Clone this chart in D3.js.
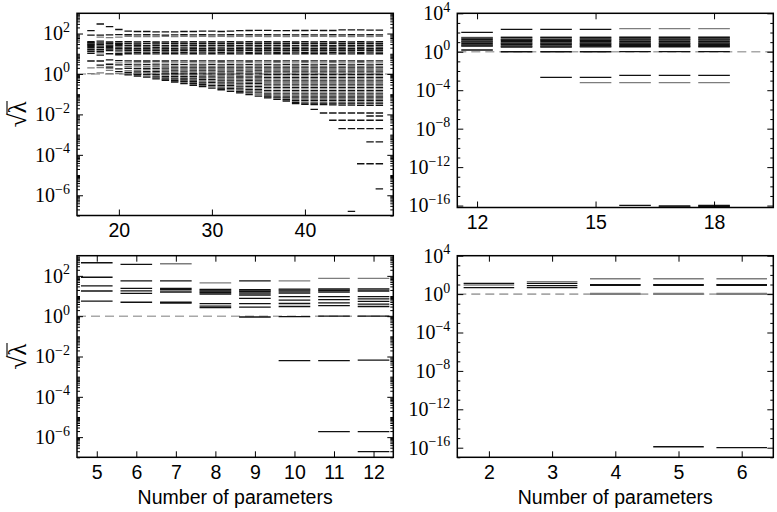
<!DOCTYPE html>
<html>
<head>
<meta charset="utf-8">
<script src="https://cdn.jsdelivr.net/npm/d3@7"></script>
<style>
  body { margin: 0; background: #fff; }
</style>
</head>
<body>
<svg width="777" height="512"></svg>
<script>
// sqrt(lambda) per number of parameters, stored as log10 values
// dark = black dashes, light = grey dashes

// ---- top left panel ----
const p1Cols = [17,18,19,20,21,22,23,24,25,26,27,28,29,30,31,32,33,34,35,36,37,38,39,40,41,42,43,44,45,46,47,48];
const p1Dark = [
  [2.14,1.92,1.6,1.55,1.47,1.42,1.36,1.3,1.2,1.1,1.02,0.64],
  [2.47,1.92,1.62,1.54,1.45,1.38,1.3,1.22,1.12,0.93,0.64,0.44],
  [2.34,1.93,1.58,1.5,1.43,1.37,1.3,1.24,1.15,1.0,0.7,0.48,0.3],
  [2.2,1.95,1.6,1.52,1.46,1.4,1.33,1.25,1.18,1.02,0.95,0.66,0.45,0.25,0.12],
  [2.12,1.94,1.6,1.5,1.41,1.33,1.26,1.17,1.08,1.0,0.65,0.46,0.28,0.08,-0.05],
  [2.1,1.93,1.59,1.49,1.42,1.34,1.25,1.16,1.07,0.99,0.64,0.45,0.26,0.1,-0.02,-0.1],
  [2.1,1.94,1.6,1.5,1.4,1.33,1.25,1.17,1.08,1.0,0.64,0.46,0.27,0.12,-0.02,-0.16],
  [2.08,1.93,1.58,1.49,1.41,1.32,1.24,1.15,1.07,0.99,0.64,0.45,0.28,0.13,-0.02,-0.14,-0.24],
  [2.08,1.92,1.59,1.5,1.4,1.33,1.25,1.16,1.08,1.0,0.64,0.45,0.29,0.14,0.0,-0.13,-0.24,-0.32],
  [2.08,1.93,1.6,1.51,1.42,1.34,1.25,1.17,1.08,1.0,0.65,0.46,0.3,0.15,0.01,-0.12,-0.24,-0.33,-0.4],
  [2.1,1.94,1.59,1.5,1.41,1.33,1.24,1.16,1.07,0.99,0.65,0.46,0.3,0.14,0.0,-0.13,-0.25,-0.36,-0.48],
  [2.1,1.93,1.6,1.5,1.42,1.33,1.26,1.17,1.08,1.0,0.64,0.45,0.3,0.15,0.01,-0.12,-0.24,-0.36,-0.47,-0.56],
  [2.12,1.94,1.59,1.5,1.41,1.34,1.25,1.16,1.08,0.99,0.65,0.45,0.3,0.15,0.0,-0.14,-0.27,-0.4,-0.52,-0.62],
  [2.12,1.93,1.6,1.51,1.42,1.33,1.25,1.17,1.08,1.0,0.65,0.46,0.3,0.15,0.0,-0.14,-0.28,-0.42,-0.56,-0.7],
  [2.1,1.93,1.59,1.5,1.41,1.33,1.24,1.16,1.07,0.99,0.64,0.45,0.3,0.14,-0.01,-0.16,-0.3,-0.44,-0.58,-0.7,-0.78],
  [2.12,1.94,1.6,1.5,1.42,1.34,1.25,1.17,1.08,1.0,0.65,0.46,0.3,0.14,-0.01,-0.16,-0.3,-0.44,-0.58,-0.72,-0.86],
  [2.14,1.93,1.59,1.51,1.41,1.33,1.26,1.16,1.08,0.99,0.65,0.45,0.3,0.15,0.0,-0.15,-0.3,-0.45,-0.6,-0.74,-0.86,-0.94],
  [2.15,1.94,1.6,1.5,1.42,1.33,1.25,1.17,1.07,1.0,0.64,0.46,0.3,0.14,-0.01,-0.16,-0.31,-0.46,-0.61,-0.76,-0.9,-1.02],
  [2.16,1.93,1.59,1.5,1.41,1.34,1.25,1.16,1.08,1.0,0.65,0.45,0.3,0.15,0.0,-0.15,-0.3,-0.46,-0.62,-0.78,-0.94,-1.1],
  [2.16,1.94,1.6,1.51,1.42,1.33,1.26,1.17,1.08,0.99,0.65,0.46,0.3,0.14,-0.02,-0.18,-0.34,-0.5,-0.66,-0.82,-0.98,-1.1,-1.18],
  [2.14,1.93,1.59,1.5,1.41,1.33,1.25,1.16,1.07,1.0,0.64,0.45,0.3,0.14,-0.02,-0.18,-0.34,-0.5,-0.66,-0.82,-0.98,-1.14,-1.26],
  [2.14,1.94,1.6,1.5,1.42,1.34,1.25,1.17,1.08,1.0,0.65,0.46,0.3,0.14,-0.02,-0.18,-0.34,-0.5,-0.66,-0.82,-0.98,-1.14,-1.26,-1.34],
  [2.15,1.93,1.59,1.51,1.41,1.33,1.26,1.16,1.08,0.99,0.65,0.45,0.3,0.14,-0.02,-0.18,-0.34,-0.5,-0.66,-0.82,-0.98,-1.14,-1.3,-1.42,-1.46],
  [2.15,1.94,1.6,1.5,1.42,1.33,1.25,1.17,1.07,1.0,0.64,0.46,0.3,0.14,-0.02,-0.18,-0.34,-0.5,-0.66,-0.82,-0.98,-1.14,-1.3,-1.44,-1.5],
  [2.16,1.93,1.59,1.5,1.41,1.34,1.25,1.16,1.08,1.0,0.65,0.45,0.3,0.14,-0.02,-0.18,-0.34,-0.5,-0.66,-0.82,-0.98,-1.14,-1.3,-1.44,-1.52,-1.75],
  [2.15,1.93,1.6,1.5,1.42,1.33,1.25,1.17,1.08,1.0,0.65,0.46,0.3,0.14,-0.02,-0.18,-0.34,-0.5,-0.66,-0.82,-0.98,-1.14,-1.3,-1.44,-1.52,-1.93],
  [2.15,1.94,1.59,1.51,1.41,1.34,1.26,1.16,1.07,0.99,0.64,0.45,0.3,0.14,-0.02,-0.18,-0.34,-0.5,-0.66,-0.82,-0.98,-1.14,-1.3,-1.44,-1.53,-1.93,-2.29],
  [2.18,1.93,1.6,1.5,1.42,1.33,1.25,1.17,1.08,1.0,0.65,0.46,0.3,0.14,-0.02,-0.18,-0.34,-0.5,-0.66,-0.82,-0.98,-1.14,-1.3,-1.44,-1.54,-1.93,-2.29,-2.7],
  [2.18,1.94,1.59,1.5,1.41,1.34,1.25,1.16,1.08,0.99,0.65,0.45,0.3,0.14,-0.02,-0.18,-0.34,-0.5,-0.66,-0.82,-0.98,-1.14,-1.3,-1.44,-1.54,-1.93,-2.29,-2.7,-6.8],
  [2.18,1.93,1.6,1.51,1.42,1.33,1.26,1.17,1.07,1.0,0.64,0.46,0.3,0.14,-0.02,-0.18,-0.34,-0.5,-0.66,-0.82,-0.98,-1.14,-1.3,-1.44,-1.55,-1.93,-2.29,-2.7,-4.44],
  [2.17,1.94,1.59,1.5,1.41,1.34,1.25,1.16,1.08,0.99,0.65,0.45,0.3,0.14,-0.02,-0.18,-0.34,-0.5,-0.66,-0.82,-0.98,-1.14,-1.3,-1.44,-1.55,-1.93,-2.08,-2.29,-2.7,-3.36,-4.44],
  [2.17,1.93,1.6,1.5,1.42,1.33,1.25,1.17,1.08,1.0,0.65,0.46,0.3,0.14,-0.02,-0.18,-0.34,-0.5,-0.66,-0.82,-0.98,-1.14,-1.3,-1.44,-1.55,-1.93,-2.08,-2.29,-2.7,-3.36,-4.44,-5.68]
];
const p1Light = [
  [1.52,1.25,1.15,0.3,0.02],
  [1.82,1.5,1.18,1.05,0.32,0.05],
  [1.8,1.54,1.2,0.38,0.18,0.02],
  [1.82,1.5,1.1,0.55,0.02],
  [1.86,1.54,1.21,0.55,0.36,0.16,0.01],
  [1.85,1.53,1.2,0.55,0.35,0.18,0.04],
  [1.85,1.52,1.2,0.56,0.36,0.2,0.05,-0.09],
  [1.85,1.53,1.19,0.54,0.36,0.2,0.06,-0.08,-0.19],
  [1.86,1.54,1.21,0.55,0.36,0.21,0.07,-0.06,-0.18,-0.28],
  [1.85,1.54,1.21,0.55,0.37,0.22,0.08,-0.05,-0.18,-0.29,-0.37],
  [1.86,1.53,1.2,0.56,0.36,0.22,0.07,-0.06,-0.19,-0.3,-0.42],
  [1.85,1.54,1.2,0.55,0.36,0.22,0.08,-0.05,-0.18,-0.3,-0.41,-0.51],
  [1.86,1.53,1.21,0.55,0.37,0.22,0.07,-0.07,-0.2,-0.33,-0.46,-0.57],
  [1.85,1.54,1.2,0.55,0.36,0.22,0.07,-0.07,-0.21,-0.35,-0.49,-0.63],
  [1.86,1.53,1.21,0.56,0.36,0.22,0.06,-0.08,-0.23,-0.37,-0.51,-0.64,-0.74],
  [1.85,1.54,1.2,0.55,0.37,0.22,0.06,-0.08,-0.23,-0.37,-0.51,-0.65,-0.79],
  [1.86,1.53,1.21,0.55,0.36,0.22,0.07,-0.08,-0.22,-0.37,-0.52,-0.67,-0.8,-0.9],
  [1.85,1.54,1.2,0.56,0.36,0.21,0.06,-0.09,-0.24,-0.39,-0.54,-0.69,-0.83,-0.96],
  [1.86,1.53,1.21,0.55,0.37,0.22,0.07,-0.08,-0.23,-0.38,-0.54,-0.7,-0.86,-1.02],
  [1.85,1.54,1.2,0.55,0.36,0.22,0.06,-0.1,-0.26,-0.42,-0.58,-0.74,-0.9,-1.04,-1.14],
  [1.86,1.53,1.21,0.56,0.37,0.22,0.06,-0.1,-0.26,-0.42,-0.58,-0.74,-0.9,-1.06,-1.2],
  [1.85,1.54,1.2,0.55,0.36,0.22,0.06,-0.1,-0.26,-0.42,-0.58,-0.74,-0.9,-1.06,-1.2,-1.3],
  [1.86,1.53,1.21,0.55,0.37,0.22,0.06,-0.1,-0.26,-0.42,-0.58,-0.74,-0.9,-1.06,-1.22,-1.36],
  [1.85,1.54,1.2,0.56,0.36,0.21,0.06,-0.1,-0.26,-0.42,-0.58,-0.74,-0.9,-1.06,-1.22,-1.38],
  [1.86,1.53,1.21,0.55,0.37,0.22,0.06,-0.1,-0.26,-0.42,-0.58,-0.74,-0.9,-1.06,-1.22,-1.38,-1.48],
  [1.86,1.53,1.2,0.55,0.36,0.22,0.06,-0.1,-0.26,-0.42,-0.58,-0.74,-0.9,-1.06,-1.22,-1.38,-1.48],
  [1.85,1.54,1.21,0.56,0.37,0.22,0.06,-0.1,-0.26,-0.42,-0.58,-0.74,-0.9,-1.06,-1.22,-1.38,-1.48],
  [1.86,1.53,1.2,0.55,0.36,0.21,0.06,-0.1,-0.26,-0.42,-0.58,-0.74,-0.9,-1.06,-1.22,-1.38,-1.48],
  [1.85,1.54,1.21,0.55,0.37,0.22,0.06,-0.1,-0.26,-0.42,-0.58,-0.74,-0.9,-1.06,-1.22,-1.38,-1.48],
  [1.86,1.53,1.2,0.56,0.36,0.22,0.06,-0.1,-0.26,-0.42,-0.58,-0.74,-0.9,-1.06,-1.22,-1.38,-1.48],
  [1.85,1.54,1.21,0.55,0.37,0.22,0.06,-0.1,-0.26,-0.42,-0.58,-0.74,-0.9,-1.06,-1.22,-1.38,-1.48],
  [1.86,1.53,1.2,0.55,0.36,0.21,0.06,-0.1,-0.26,-0.42,-0.58,-0.74,-0.9,-1.06,-1.22,-1.38,-1.48]
];

// ---- top right panel ----
const p2Cols = [12,13,14,15,16,17,18];
const p2Dark = [
  [2.02,1.42,1.28,1.14,1.0,0.86,0.72,0.58,0.18],
  [2.33,1.46,1.32,1.18,1.04,0.9,0.76,0.62,0.48,0.0],
  [2.33,1.46,1.32,1.18,1.04,0.9,0.76,0.62,0.48,0.0,-2.67],
  [2.33,1.47,1.33,1.19,1.05,0.91,0.77,0.63,0.5,0.0,-2.67],
  [1.48,1.34,1.2,1.06,0.92,0.78,0.64,0.52,0.02,-2.45,-15.97],
  [1.48,1.34,1.2,1.06,0.92,0.78,0.64,0.52,0.02,-2.45,-16.04,-16.13],
  [1.48,1.34,1.2,1.06,0.92,0.78,0.64,0.52,0.02,-2.45,-15.97,-16.07,-16.16]
];
const p2Light = [
  [1.5,1.08,0.65],
  [1.55,1.25,0.83,0.55],
  [1.55,1.25,0.83,0.55],
  [1.55,1.25,0.83,0.55,-3.22],
  [2.4,1.56,1.27,0.85,0.58,-3.22],
  [2.4,1.56,1.27,0.85,0.58,-3.22],
  [2.4,1.56,1.27,0.85,0.58,-3.22]
];

// ---- bottom left panel ----
const p3Cols = [5,6,7,8,9,10,11,12];
const p3Dark = [
  [2.65,1.93,1.5,1.25,0.75],
  [2.57,1.75,1.38,1.26,1.13,0.69],
  [1.75,1.38,1.31,1.2,0.69,0.65],
  [1.33,1.25,1.17,1.1,0.62,0.5,0.42],
  [1.75,1.31,1.23,1.15,1.05,0.88,0.62,0.45,-0.04],
  [1.34,1.25,1.15,0.97,0.8,0.63,0.48,-0.02,-2.2],
  [1.35,1.28,1.2,0.97,0.82,0.66,0.52,0.0,-2.2,-5.73],
  [1.35,1.25,0.97,0.86,0.73,0.6,0.48,0.0,-2.18,-5.73,-6.72]
];
const p3Light = [
  [],
  [],
  [2.6],
  [1.65,1.29,1.21],
  [1.27],
  [1.75,1.3],
  [1.88,1.31],
  [1.88,1.3]
];

// ---- bottom right panel ----
const p4Cols = [2,3,4,5,6];
const p4Dark = [
  [1.12,0.67],
  [1.12,0.88,0.67],
  [0.98,0.92],
  [0.98,0.92,-15.9],
  [0.98,0.92,-16.0]
];
const p4Light = [
  [0.95],
  [1.3],
  [1.6,0.08,-0.02],
  [1.6,0.08,-0.02],
  [1.6,0.08,-0.02]
];

const DARK = "#111";
const LIGHT = "#7d7d7d";
const HALF = 0.4; // half width of a dash, in x units
const SERIF = "'Liberation Serif', 'DejaVu Serif', serif";
const SANS = "'Liberation Sans', Arial, sans-serif";

const svg = d3.select("svg");

function supLabels(g) {
  g.selectAll(".tick text").each(function (d) {
    const e = Math.round(Math.log10(d));
    const t = d3.select(this)
      .style("font-family", SERIF)
      .style("font-size", "20px")
      .attr("fill", "#000");
    t.text(null);
    t.append("tspan").style("font-size", "20px").text("10");
    t.append("tspan")
      .attr("dy", "-8.5")
      .style("font-size", "14px")
      .text(e < 0 ? "\u2212" + -e : String(e));
  });
}

function drawPanel(p) {
  const x = d3.scaleLinear().domain(p.xDomain).range([p.left, p.right]);
  const y = d3.scaleLog().domain([Math.pow(10, p.yMin), Math.pow(10, p.yMax)]).range([p.bottom, p.top]);
  const g = svg.append("g");

  const clipId = "clip" + p.id;
  g.append("clipPath").attr("id", clipId)
    .append("rect")
    .attr("x", p.left).attr("y", p.top)
    .attr("width", p.right - p.left).attr("height", p.bottom - p.top);

  const plot = g.append("g").attr("clip-path", "url(#" + clipId + ")");

  // reference line at sqrt(lambda) = 1
  plot.append("line")
    .attr("x1", p.left).attr("x2", p.right)
    .attr("y1", y(1)).attr("y2", y(1))
    .attr("stroke", "#a8a8a8")
    .attr("stroke-width", 1.6)
    .attr("stroke-dasharray", "9,5");

  function dashes(list, colour) {
    const rows = [];
    p.cols.forEach((c, i) => list[i].forEach((v) => rows.push({ c: c, v: v })));
    plot.append("g").selectAll("line")
      .data(rows)
      .join("line")
      .attr("x1", (d) => x(d.c - HALF))
      .attr("x2", (d) => x(d.c + HALF))
      .attr("y1", (d) => y(Math.pow(10, d.v)))
      .attr("y2", (d) => y(Math.pow(10, d.v)))
      .attr("stroke", colour)
      .attr("stroke-width", 1.3);
  }
  dashes(p.light, LIGHT);
  dashes(p.dark, DARK);

  const major = d3.range(p.yMajorFrom, p.yMax + 0.001, p.yMajorStep).map((e) => Math.pow(10, e));
  let minor = [];
  if (p.fineMinor) {
    for (let e = Math.floor(p.yMin); e < p.yMax; e++) {
      for (let k = 1; k < 10; k++) {
        const v = k * Math.pow(10, e);
        if (k === 1 && (e - p.yMajorFrom) % p.yMajorStep === 0) continue;
        if (Math.log10(v) >= p.yMin && Math.log10(v) <= p.yMax) minor.push(v);
      }
    }
  } else {
    for (let e = Math.ceil(p.yMin); e <= p.yMax; e++) {
      if ((e - p.yMajorFrom) % p.yMajorStep !== 0) minor.push(Math.pow(10, e));
    }
  }

  const noDomain = (s) => s.select(".domain").remove();

  // left axis with labels
  g.append("g")
    .attr("transform", "translate(" + p.left + ",0)")
    .call(d3.axisLeft(y).tickValues(major).tickSize(-6).tickPadding(7))
    .call(noDomain)
    .call(supLabels);
  g.append("g")
    .attr("transform", "translate(" + p.left + ",0)")
    .call(d3.axisLeft(y).tickValues(minor).tickSize(-3).tickFormat(""))
    .call(noDomain);
  g.append("g")
    .attr("transform", "translate(" + p.right + ",0)")
    .call(d3.axisRight(y).tickValues(major).tickSize(-6).tickFormat(""))
    .call(noDomain);
  g.append("g")
    .attr("transform", "translate(" + p.right + ",0)")
    .call(d3.axisRight(y).tickValues(minor).tickSize(-3).tickFormat(""))
    .call(noDomain);

  // bottom axis with labels, top axis ticks only
  g.append("g")
    .attr("transform", "translate(0," + p.bottom + ")")
    .call(d3.axisBottom(x).tickValues(p.xTicks).tickSize(-6).tickPadding(8).tickFormat(d3.format("d")))
    .call(noDomain)
    .call((s) => s.selectAll(".tick text")
      .style("font-family", SANS)
      .style("font-size", "19.5px")
      .attr("fill", "#000"));
  g.append("g")
    .attr("transform", "translate(0," + p.top + ")")
    .call(d3.axisTop(x).tickValues(p.xTicks).tickSize(-6).tickFormat(""))
    .call(noDomain);

  g.selectAll(".tick line").attr("stroke", "#000").attr("stroke-width", 1);

  g.append("rect")
    .attr("x", p.left).attr("y", p.top)
    .attr("width", p.right - p.left).attr("height", p.bottom - p.top)
    .attr("fill", "none")
    .attr("stroke", "#000")
    .attr("stroke-width", 1.5);

  if (p.xlabel) {
    g.append("text")
      .attr("x", (p.left + p.right) / 2)
      .attr("y", 504)
      .attr("text-anchor", "middle")
      .style("font-family", SANS)
      .style("font-size", "19.5px")
      .text(p.xlabel);
  }

  if (p.ylabel) {
    const cy = (p.top + p.bottom) / 2;
    const lab = g.append("g").attr("transform", "translate(26," + cy + ") rotate(-90)");
    const txt = lab.append("text")
      .attr("text-anchor", "middle")
      .style("font-family", SERIF)
      .style("font-size", "25px")
      .text("\u221a\u03bb");
    // vinculum over lambda
    const len = txt.node().getComputedTextLength();
    const lam = txt.node().getSubStringLength(1, 1);
    lab.append("line")
      .attr("x1", len / 2 - lam - 0.5).attr("x2", len / 2 + 0.5)
      .attr("y1", -19).attr("y2", -19)
      .attr("stroke", "#000").attr("stroke-width", 1.1);
  }
}

drawPanel({
  id: 1, left: 77, right: 393.3, top: 13.3, bottom: 215.5,
  xDomain: [15.5, 49.5], xTicks: [20, 30, 40],
  yMin: -7, yMax: 3, yMajorFrom: -6, yMajorStep: 2, fineMinor: true,
  cols: p1Cols, dark: p1Dark, light: p1Light, ylabel: true
});
drawPanel({
  id: 2, left: 457.3, right: 773.3, top: 13.3, bottom: 207.5,
  xDomain: [11.5, 19.5], xTicks: [12, 15, 18],
  yMin: -16.2, yMax: 4, yMajorFrom: -16, yMajorStep: 4, fineMinor: false,
  cols: p2Cols, dark: p2Dark, light: p2Light
});
drawPanel({
  id: 3, left: 77, right: 393.3, top: 255.7, bottom: 457.3,
  xDomain: [4.5, 12.5], xTicks: [5, 6, 7, 8, 9, 10, 11, 12],
  yMin: -7, yMax: 3, yMajorFrom: -6, yMajorStep: 2, fineMinor: true,
  cols: p3Cols, dark: p3Dark, light: p3Light, ylabel: true, xlabel: "Number of parameters"
});
drawPanel({
  id: 4, left: 457.3, right: 773.3, top: 255.7, bottom: 457.3,
  xDomain: [1.5, 6.5], xTicks: [2, 3, 4, 5, 6],
  yMin: -17, yMax: 4, yMajorFrom: -16, yMajorStep: 4, fineMinor: false,
  cols: p4Cols, dark: p4Dark, light: p4Light, xlabel: "Number of parameters"
});
</script>
</body>
</html>
